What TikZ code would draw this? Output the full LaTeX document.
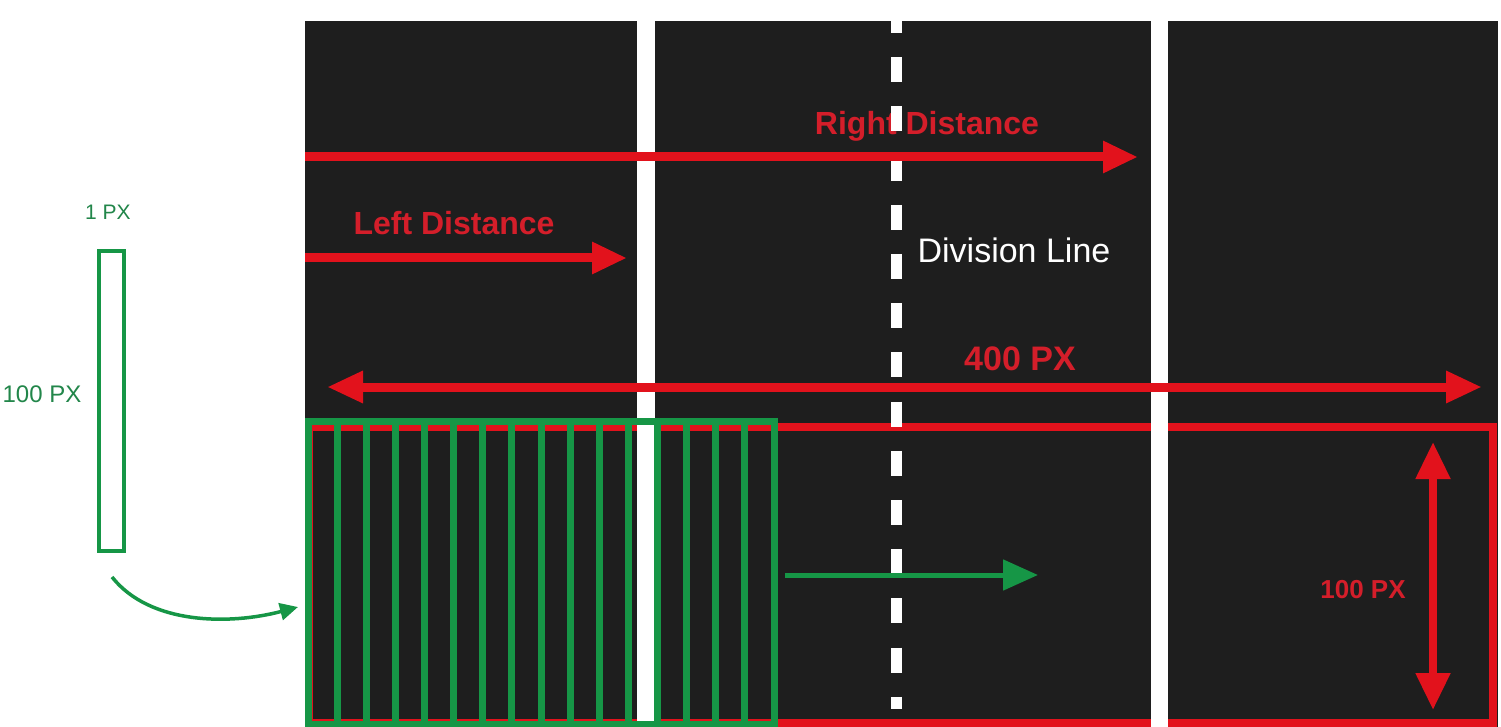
\documentclass[tikz,border=0pt]{standalone}
\usepackage{fontspec}
\setmainfont{Liberation Sans}
\usetikzlibrary{arrows.meta}
\definecolor{panel}{RGB}{30,30,30}
\definecolor{redA}{RGB}{226,18,28}
\definecolor{redT}{RGB}{212,30,42}
\definecolor{grnS}{RGB}{22,150,70}
\definecolor{grnT}{RGB}{34,134,74}
\begin{document}
\begin{tikzpicture}[x=1pt,y=-1pt,
  redarrow/.style={draw=redA, line width=9pt, -{Triangle[length=35pt,width=30pt]}},
  reddouble/.style={draw=redA, line width=9pt, {Triangle[length=36pt,width=30pt]}-{Triangle[length=36pt,width=30pt]}},
  redlabel/.style={text=redT, font=\bfseries\fontsize{32}{36}\selectfont, anchor=base, inner sep=0pt},
  grnlabel/.style={text=grnT, font=\fontsize{24}{28}\selectfont, anchor=base, inner sep=0pt},
  stripe/.style={draw=grnS, line width=7pt}
]
\useasboundingbox (0,0) rectangle (1501,727);
\fill[white] (0,0) rectangle (1501,727);
% dark panels
\fill[panel] (305,21) rectangle (1498,727);
% red 400x100 frame
\draw[redA, line width=8pt] (309,427) rectangle (1493,723);
% white gaps between panels
\fill[white] (637,21) rectangle (655,727);
\fill[white] (1151,21) rectangle (1168,727);
% label under division line
\node[redlabel] (rdtext) at (927,135) {Right Distance};
% division line
\begin{scope}
  \clip (305,21) rectangle (1498,727);
  \coordinate (dvA) at (896.5,8);
  \coordinate (dvB) at (896.5,709);
  \draw[white, line width=11pt, dash pattern=on 25pt off 24.2pt] (dvA) -- (dvB);
\end{scope}
% green 1px stripes
\foreach \i in {0,...,15}{
  \draw[stripe] ({308+\i*29.125},421) rectangle ({308+(\i+1)*29.125},724);
}
% red arrows
\coordinate (rdA) at (305,157);
\coordinate (rdB) at (1138,157);
\draw[redarrow] (rdA) -- (rdB);
\coordinate (ldA) at (305,258);
\coordinate (ldB) at (627,258);
\draw[redarrow] (ldA) -- (ldB);
\coordinate (wA) at (327,387);
\coordinate (wB) at (1482,387);
\draw[reddouble] (wA) -- (wB);
\coordinate (hA) at (1433,442);
\coordinate (hB) at (1433,710);
\draw[draw=redA, line width=8pt, {Triangle[length=37pt,width=33pt]}-{Triangle[length=37pt,width=33pt]}] (hA) -- (hB);
% green arrows
\coordinate (gA) at (785,575);
\coordinate (gB) at (1038,575);
\draw[grnS, line width=5pt, -{Triangle[length=35pt,width=30pt]}] (gA) -- (gB);
\coordinate (cA) at (112,577);
\coordinate (cB) at (298,607);
\draw[grnS, line width=3.5pt, -{Triangle[length=18pt,width=17pt]}] (cA) .. controls (150,625) and (230,625) .. (cB);
% single stripe sample
\node[draw=grnS, line width=4pt, minimum width=25pt, minimum height=300pt, inner sep=0pt] (one) at (111.5,401) {};
% labels
\node[redlabel] (ldtext) at (454,235) {Left Distance};
\node[anchor=base, inner sep=0pt, text=white, font=\fontsize{34}{38}\selectfont] (dvtext) at (1014,263) {Division Line};
\node[redlabel, font=\bfseries\fontsize{34}{38}\selectfont] (wtext) at (1020,370) {400 PX};
\node[redlabel, font=\bfseries\fontsize{26}{30}\selectfont] (htext) at (1363,598) {100 PX};
\node[grnlabel] (onehtext) at (42,402) {100 PX};
\node[grnlabel, font=\fontsize{21}{25}\selectfont] (onewtext) at (108,220) {1 PX};
\end{tikzpicture}
\end{document}
